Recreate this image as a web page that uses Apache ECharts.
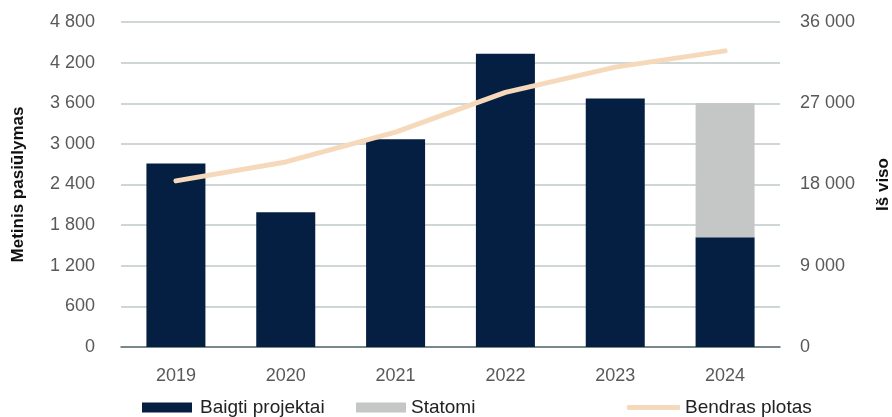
<!DOCTYPE html>
<html>
<head>
<meta charset="utf-8">
<script src="https://cdn.jsdelivr.net/npm/echarts@6/dist/echarts.min.js"></script>
<style>
html,body{margin:0;padding:0;background:#fff;}
#chart{width:892px;height:417px;}
</style>
</head>
<body>
<div id="chart"></div>
<script>
const categories = ['2019', '2020', '2021', '2022', '2023', '2024'];
const baigtiProjektai = [2710, 1990, 3070, 4330, 3670, 1620];
const statomi = [null, null, null, null, null, 1980];
const bendrasPlotas = [18400, 20500, 23800, 28200, 31000, 32800];

const fmt = v => String(v).replace(/\B(?=(\d{3})+(?!\d))/g, ' ');
const FONT = 'Liberation Sans, Arial, sans-serif';

const chart = echarts.init(document.getElementById('chart'), null, {renderer: 'canvas'});
chart.setOption({
  backgroundColor: '#ffffff',
  animation: false,
  textStyle: {fontFamily: FONT},
  grid: {left: 121, right: 112, top: 22, bottom: 70, containLabel: false, outerBoundsMode: 'none'},
  legend: [
    {data: ['Baigti projektai'], left: 137, top: 393, itemWidth: 50, itemHeight: 10, itemGap: 0,
     icon: 'rect', textStyle: {fontSize: 19, color: '#222', fontFamily: FONT, padding: [0, 0, 0, 3]}},
    {data: ['Statomi'], left: 351, top: 393, itemWidth: 50, itemHeight: 10, itemGap: 0,
     icon: 'rect', textStyle: {fontSize: 19, color: '#222', fontFamily: FONT, padding: [0, 0, 0, 0]}},
    {data: [{name: 'Bendras plotas', icon: 'roundRect'}], left: 622, top: 393, itemWidth: 53, itemHeight: 5, itemGap: 0,
     textStyle: {fontSize: 19, color: '#222', fontFamily: FONT, padding: [0, 0, 0, 0]}}
  ],
  xAxis: {
    type: 'category',
    data: categories,
    axisLine: {lineStyle: {color: '#5f6e71', width: 1.5}},
    axisTick: {show: false},
    axisLabel: {fontSize: 18, color: '#595959', margin: 20, fontFamily: FONT}
  },
  yAxis: [
    {
      type: 'value', min: 0, max: 4800, interval: 600,
      name: 'Metinis pasiūlymas', nameLocation: 'middle', nameGap: 94, nameRotate: 90,
      nameTextStyle: {fontSize: 17, fontWeight: 'bold', color: '#111', fontFamily: FONT},
      axisLine: {show: false}, axisTick: {show: false},
      axisLabel: {fontSize: 18, color: '#595959', margin: 26, formatter: fmt, fontFamily: FONT},
      splitLine: {lineStyle: {color: '#cfd6d8', width: 2}}
    },
    {
      type: 'value', min: 0, max: 36000, interval: 9000, position: 'right',
      name: 'Iš viso', nameLocation: 'middle', nameGap: 95, nameRotate: 90,
      nameTextStyle: {fontSize: 17, fontWeight: 'bold', color: '#111', fontFamily: FONT},
      axisLine: {show: false}, axisTick: {show: false},
      axisLabel: {fontSize: 18, color: '#595959', margin: 20, formatter: fmt, fontFamily: FONT},
      splitLine: {show: false}
    }
  ],
  series: [
    {
      name: 'Baigti projektai', type: 'bar', stack: 'a', data: baigtiProjektai,
      barWidth: 59, itemStyle: {color: '#051f43'}
    },
    {
      name: 'Statomi', type: 'bar', stack: 'a', data: statomi,
      barWidth: 59, itemStyle: {color: '#c5c6c6'}
    },
    {
      name: 'Bendras plotas', type: 'line', yAxisIndex: 1, data: bendrasPlotas,
      showSymbol: false, symbol: 'none',
      lineStyle: {color: '#f6d9ba', width: 5, cap: 'round', join: 'round'},
      itemStyle: {color: '#f6d9ba'}
    }
  ]
});
</script>
</body>
</html>
